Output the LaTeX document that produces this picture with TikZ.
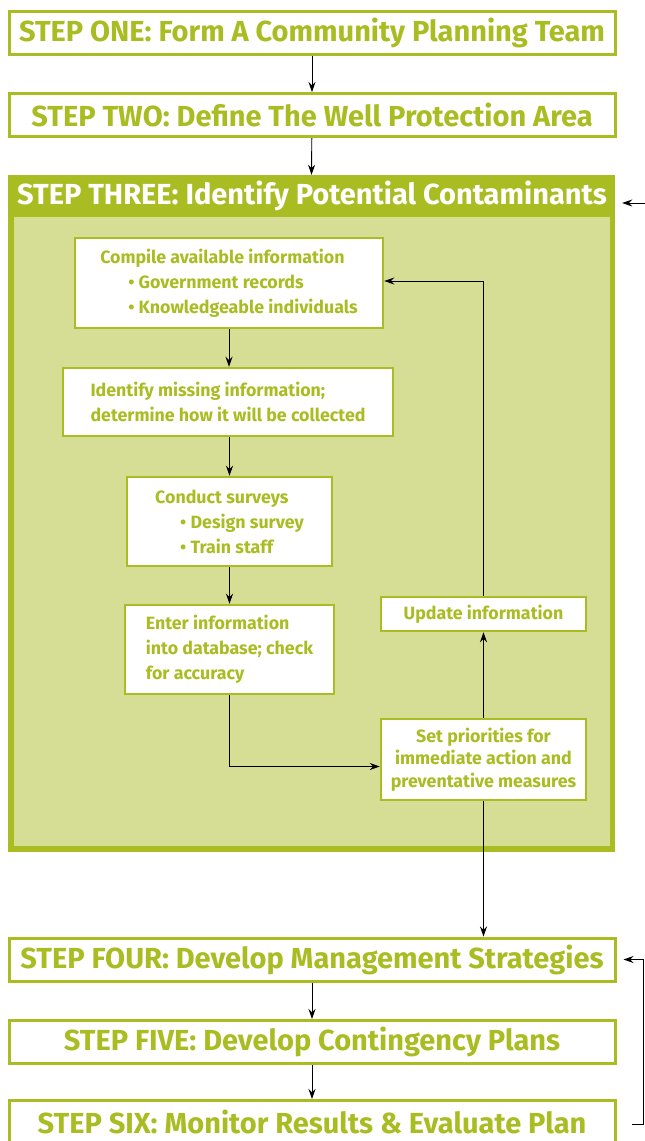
\documentclass[tikz,border=0pt]{standalone}
\usepackage{fontspec}
\setmainfont{Fira Sans}
\usetikzlibrary{arrows.meta}
\definecolor{leaf}{RGB}{169,189,34}
\definecolor{leaflight}{RGB}{213,222,148}
\tikzset{
  stepbox/.style={draw=leaf, line width=3pt, fill=white, minimum width=606pt, minimum height=43pt, inner sep=0pt, text=leaf, font=\fontsize{29}{32}\selectfont\bfseries},
  taskbox/.style={draw=leaf, line width=2.5pt, fill=white, inner sep=0pt, text=leaf, font=\fontsize{17.8}{25}\selectfont\bfseries, align=left},
  flow/.style={-{Stealth[length=10pt,width=7pt]}, line width=0.9pt},
}
\newcommand{\itemdot}[1]{\hspace*{#1}\textbullet~}

\begin{document}
\begin{tikzpicture}[x=1pt,y=-1pt]
  \useasboundingbox (0,0) rectangle (645,1141);

  % steps one and two
  \node[stepbox] (one) at (312,32.5) {STEP ONE: Form A Community Planning Team};
  \node[stepbox] (two) at (312,115) {STEP TWO: Define The Well Protection Area};

  % step three frame
  \node[fill=leaf, minimum width=607pt, minimum height=677pt, inner sep=0pt] (three) at (311.5,513.5) {};
  \fill[leaflight] (14,217) rectangle (610,846);
  \node[text=white, font=\fontsize{29}{32}\selectfont\bfseries] (threetitle) at (312,196) {STEP THREE: Identify Potential Contaminants};

  \node[taskbox, minimum width=308pt, minimum height=90pt] (compile) at (229,283)
    {Compile available information\\ \itemdot{28pt}Government records\\ \itemdot{28pt}Knowledgeable individuals};
  \node[taskbox, minimum width=330pt, minimum height=68pt] (missing) at (228,402)
    {Identify missing information;\\ determine how it will be collected};
  \node[taskbox, minimum width=205pt, minimum height=89pt] (survey) at (229.5,521.5)
    {Conduct surveys\\ \itemdot{25pt}Design survey\\ \itemdot{25pt}Train staff};
  \node[taskbox, minimum width=209pt, minimum height=89pt] (enter) at (229.5,649.5)
    {Enter information\\ into database; check\\ for accuracy};
  \node[taskbox, align=center, minimum width=205pt, minimum height=34pt] (update) at (483.5,614)
    {Update information};
  \node[taskbox, align=center, minimum width=205pt, minimum height=81pt, font=\fontsize{17.8}{22.5}\selectfont\bfseries] (priority) at (483.5,759.5)
    {Set priorities for\\ immediate action and\\ preventative measures};

  % steps four to six
  \node[stepbox] (four) at (312,959.5) {STEP FOUR: Develop Management Strategies};
  \node[stepbox] (five) at (312,1042) {STEP FIVE: Develop Contingency Plans};
  \node[stepbox] (six) at (312,1122) {STEP SIX: Monitor Results \& Evaluate Plan};

  % connectors
  \draw[flow] (one) -- (two);
  \draw[flow] (two) -- (three.north);
  \draw[flow] (compile.south) -- (compile.south |- missing.north);
  \draw[flow] (missing.south -| survey.north) -- (survey.north);
  \draw[flow] (survey) -- (enter);
  \draw[flow] (enter.south) |- ([yshift=-7pt]priority.west);
  \draw[flow] (priority) -- (update);
  \draw[flow] (update.north) |- ([yshift=2pt]compile.east);
  \draw[flow] (priority.south) -- (priority.south |- four.north);
  \draw[flow] (four) -- (five);
  \draw[flow] (five) -- (six);

  \coordinate (threein) at (646,203);
  \draw[flow] (threein) -- ([xshift=7pt]three.east |- threein);
  \coordinate (loopstart) at (632,1124);
  \coordinate (loopcorner) at (643,1124);
  \draw[flow] (loopstart) -- (loopcorner) |- ([xshift=7pt]four.east);
\end{tikzpicture}
\end{document}
